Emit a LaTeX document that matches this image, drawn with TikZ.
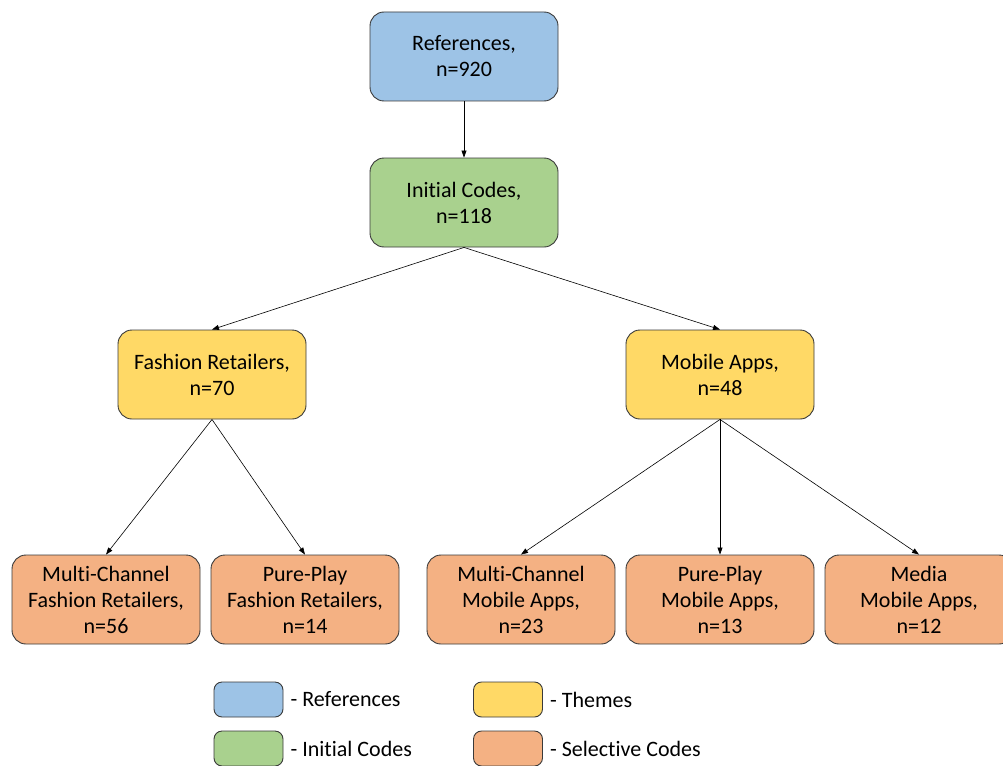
\documentclass[tikz,border=0pt]{standalone}
\usepackage{fontspec}
\setmainfont{Carlito}[Ligatures={NoCommon}]
\usetikzlibrary{arrows.meta}
\definecolor{refblue}{HTML}{9DC3E6}
\definecolor{codegreen}{HTML}{A9D18E}
\definecolor{themeyellow}{HTML}{FFD966}
\definecolor{selorange}{HTML}{F4B183}
\definecolor{edge}{HTML}{3A3A3A}
\begin{document}
\begin{tikzpicture}[x=1pt,y=-1pt,
  box/.style={draw=edge, line width=0.9pt, rounded corners=14pt, minimum width=188pt,
    minimum height=89pt, align=center, inner sep=0pt, font=\fontsize{22}{26}\selectfont},
  keybox/.style={draw=edge, line width=0.9pt, rounded corners=8pt, minimum width=69pt,
    minimum height=35pt, inner sep=0pt},
  keytext/.style={anchor=west, inner sep=0pt, font=\fontsize{22}{26}\selectfont},
  link/.style={draw=black, line width=0.6pt, -{Triangle[length=7pt,width=5pt]}}]
  \useasboundingbox (0,0) rectangle (1003,765);

  % tree levels
  \node[box, fill=refblue] (ref) at (464,56.5) {References,\\n=920};
  \node[box, fill=codegreen] (init) at (464,202.5) {Initial Codes,\\n=118};
  \node[box, fill=themeyellow] (fash) at (212,374.5) {Fashion Retailers,\\n=70};
  \node[box, fill=themeyellow] (mob) at (720,374.5) {Mobile Apps,\\n=48};
  \node[box, fill=selorange] (mcf) at (106,599.5) {Multi-Channel\\Fashion Retailers,\\n=56};
  \node[box, fill=selorange] (ppf) at (305,599.5) {Pure-Play\\Fashion Retailers,\\n=14};
  \node[box, fill=selorange] (mcm) at (521,599.5) {Multi-Channel\\Mobile Apps,\\n=23};
  \node[box, fill=selorange] (ppm) at (720,599.5) {Pure-Play\\Mobile Apps,\\n=13};
  \node[box, fill=selorange] (med) at (919,599.5) {Media\\Mobile Apps,\\n=12};

  % connectors
  \draw[link] (ref.south) -- (init.north);
  \draw[link] (init.south) -- (fash.north);
  \draw[link] (init.south) -- (mob.north);
  \draw[link] (fash.south) -- (mcf.north);
  \draw[link] (fash.south) -- (ppf.north);
  \draw[link] (mob.south) -- (mcm.north);
  \draw[link] (mob.south) -- (ppm.north);
  \draw[link] (mob.south) -- (med.north);

  % legend
  \node[keybox, fill=refblue] (kref) at (248.5,699.5) {};
  \node[keybox, fill=codegreen] (kinit) at (248.5,748.5) {};
  \node[keybox, fill=themeyellow] (ktheme) at (508,699.5) {};
  \node[keybox, fill=selorange] (ksel) at (508,748.5) {};
  \node[keytext] (tref) at ([xshift=7pt]kref.east) {- References};
  \node[keytext] (tinit) at ([xshift=7pt]kinit.east) {- Initial Codes};
  \node[keytext] (ttheme) at ([xshift=7pt]ktheme.east) {- Themes};
  \node[keytext] (tsel) at ([xshift=7pt]ksel.east) {- Selective Codes};
\end{tikzpicture}
\end{document}
